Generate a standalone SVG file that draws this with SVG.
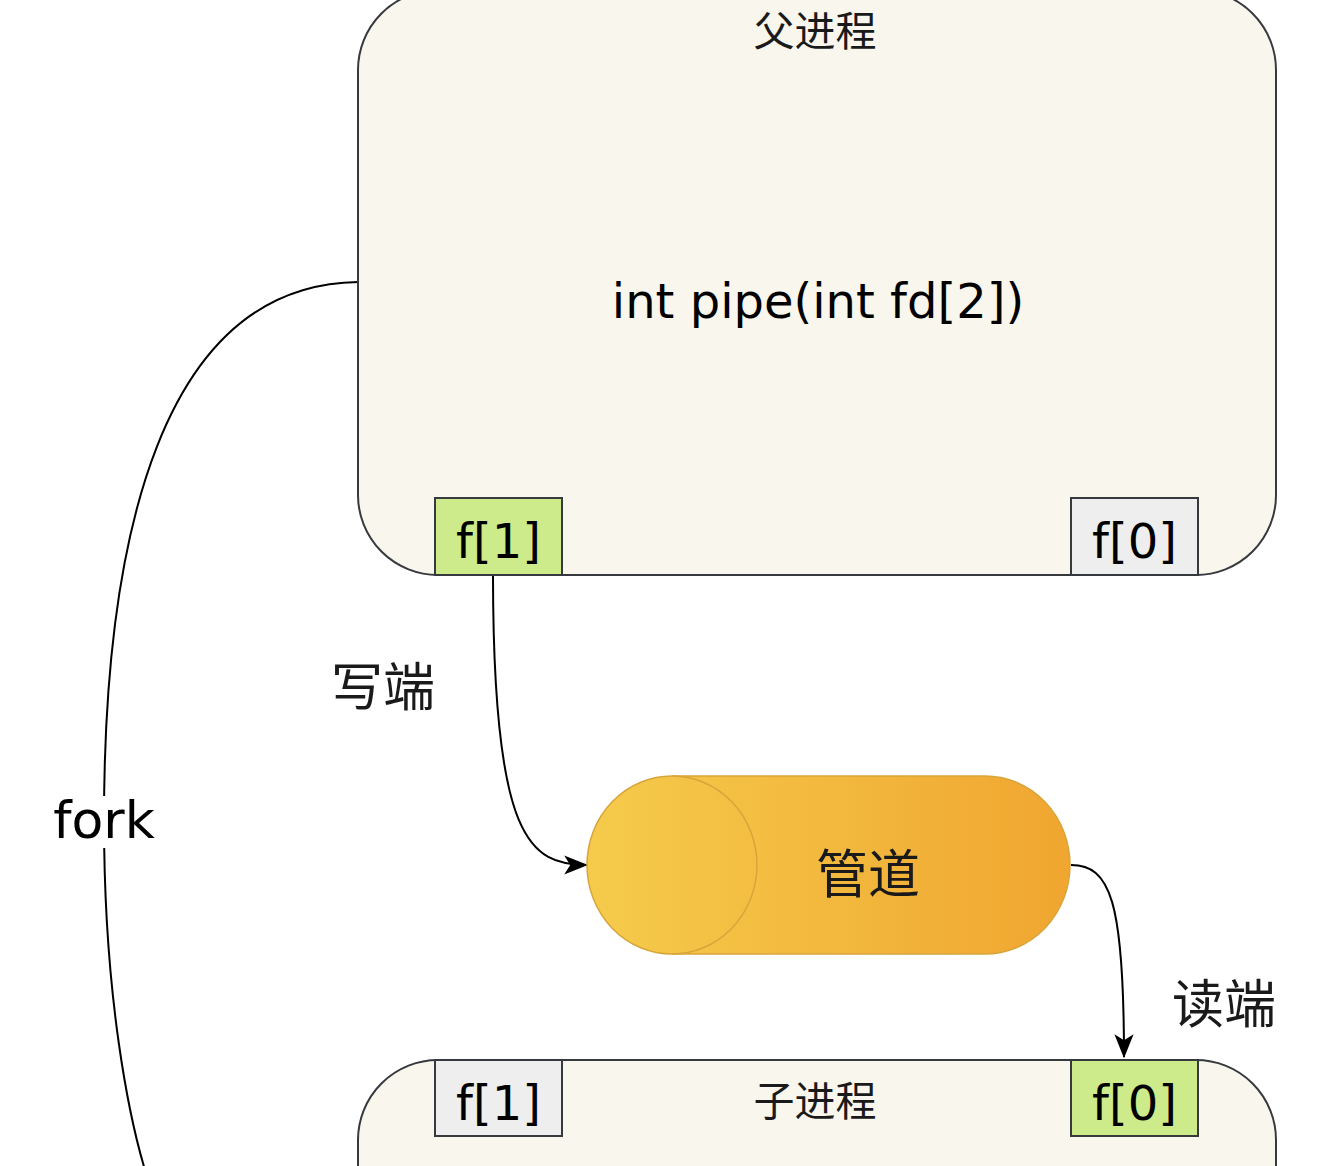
<svg xmlns="http://www.w3.org/2000/svg" width="1320" height="1166" viewBox="0 0 1320 1166">
<style>
.proc{fill:#f9f7ed;stroke:#36393d;stroke-width:2}
.green{fill:#cdeb8b;stroke:#36393d;stroke-width:2}
.grey{fill:#eeeeee;stroke:#36393d;stroke-width:2}
.lat{font-family:"DejaVu Sans","Liberation Sans",sans-serif;fill:#000}
.cjk{font-family:"Noto Sans CJK SC","Noto Sans",sans-serif;fill:#1a1a1a}
.edge{fill:none;stroke:#000;stroke-width:2}
</style>
<defs>
<linearGradient id="pg" x1="0" y1="0" x2="1" y2="0">
<stop offset="0" stop-color="#f5cb4c"/>
<stop offset="1" stop-color="#f0a630"/>
</linearGradient>
<marker id="arr" viewBox="0 0 20 20" refX="19" refY="10" markerWidth="24" markerHeight="24" markerUnits="userSpaceOnUse" orient="auto">
<path d="M0,2 L20,10 L0,18 L5,10 Z" fill="#000"/>
</marker>
</defs>
<rect width="1320" height="1166" fill="#ffffff"/>
<g id="connectors">
<path class="edge" d="M358,282 C160,285 104,540 104,820 C104,1000 130,1120 145,1170"/>
<path class="edge" d="M493,575 C493,840 530,865 587,865" marker-end="url(#arr)"/>
<path class="edge" d="M1071,865 C1110,865 1124,900 1124,1057" marker-end="url(#arr)"/>
</g>
<g id="parent">
<rect class="proc" x="358" y="-10" width="918" height="585" rx="80" ry="80"/>
<text class="cjk" x="815" y="28" font-size="41" text-anchor="middle" dominant-baseline="central">父进程</text>
<text class="lat" x="818" y="318" font-size="48" text-anchor="middle">int pipe(int fd[2])</text>
</g>
<g id="parent-f1">
<rect class="green" x="435" y="498" width="127" height="77"/>
<text class="lat" x="498.5" y="558" font-size="48" text-anchor="middle">f[1]</text>
</g>
<g id="parent-f0">
<rect class="grey" x="1071" y="498" width="127" height="77"/>
<text class="lat" x="1134.5" y="558" font-size="48" text-anchor="middle">f[0]</text>
</g>
<g id="pipe">
<path d="M672,776 L985,776 A85,89 0 0 1 985,954 L672,954 A85,89 0 0 1 672,776 Z" fill="url(#pg)" stroke="#d8a53a" stroke-width="1.5"/>
<path d="M672,776 A85,89 0 0 1 672,954" fill="none" stroke="#d8a53a" stroke-width="1.5"/>
<text class="cjk" x="868" y="870" font-size="52" text-anchor="middle" dominant-baseline="central">管道</text>
</g>
<g id="child">
<rect class="proc" x="358" y="1060" width="918" height="300" rx="80" ry="80"/>
<text class="cjk" x="815" y="1098" font-size="41" text-anchor="middle" dominant-baseline="central">子进程</text>
</g>
<g id="child-f1">
<rect class="grey" x="435" y="1060" width="127" height="76"/>
<text class="lat" x="498.5" y="1120" font-size="48" text-anchor="middle">f[1]</text>
</g>
<g id="child-f0">
<rect class="green" x="1071" y="1060" width="127" height="76"/>
<text class="lat" x="1134.5" y="1120" font-size="48" text-anchor="middle">f[0]</text>
</g>
<g id="labels">
<rect x="50" y="796" width="108" height="52" fill="#ffffff"/>
<text class="lat" x="104" y="838" font-size="52" text-anchor="middle">fork</text>
<text class="cjk" x="383" y="683" font-size="52" text-anchor="middle" dominant-baseline="central">写端</text>
<text class="cjk" x="1224" y="1000" font-size="52" text-anchor="middle" dominant-baseline="central">读端</text>
</g>
</svg>
